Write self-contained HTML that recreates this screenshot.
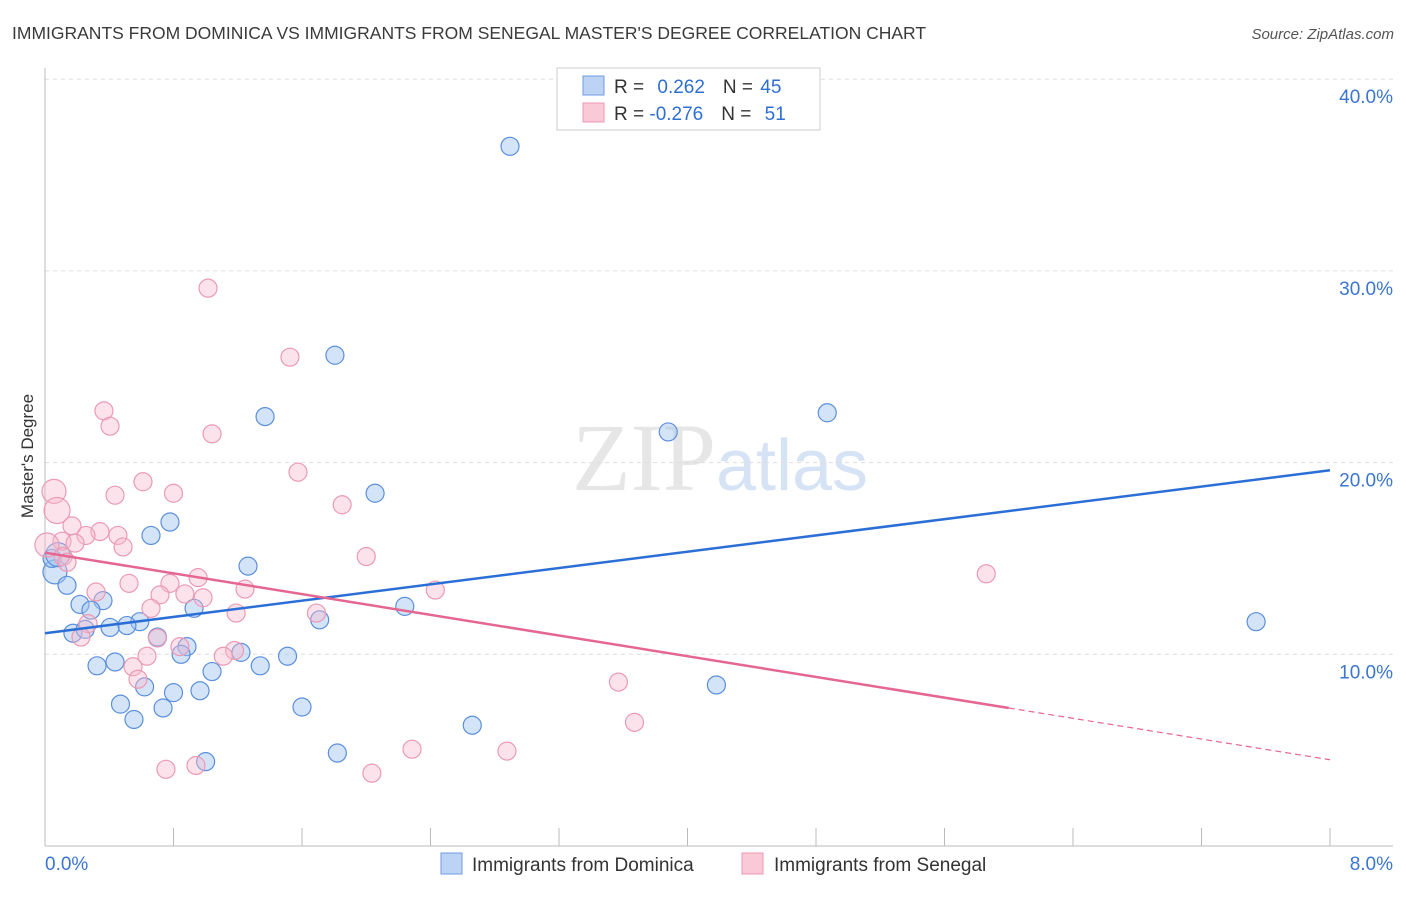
<!DOCTYPE html>
<html><head><meta charset="utf-8"><style>
body{margin:0;background:#fff;font-family:"Liberation Sans",sans-serif}
</style></head><body>
<svg id="chart" width="1406" height="892" xmlns="http://www.w3.org/2000/svg" font-family="Liberation Sans, sans-serif">
<text x="12" y="39" font-size="17.5" fill="#3a3a3a">IMMIGRANTS FROM DOMINICA VS IMMIGRANTS FROM SENEGAL MASTER'S DEGREE CORRELATION CHART</text>
<text x="1394" y="39" font-size="15" fill="#555" text-anchor="end" font-style="italic">Source: ZipAtlas.com</text>
<text x="720" y="490" font-size="96" text-anchor="middle" fill="#e6e6e6" font-family="Liberation Serif, serif">ZIP<tspan fill="#d6e3f5" font-family="Liberation Sans, sans-serif" font-size="72">atlas</tspan></text>
<g id="grid"></g><g id="axes"></g><g id="pts"></g><g id="trends"></g>
<text transform="translate(33,456) rotate(-90)" font-size="17" fill="#333" text-anchor="middle">Master's Degree</text>
<g>
<rect x="557" y="68" width="263" height="62" fill="#fff" stroke="#ccc"/>
<rect x="583" y="76" width="21" height="19" fill="#bcd3f5" stroke="#6f9be0"/>
<rect x="583" y="103" width="21" height="19" fill="#f9c9d7" stroke="#ec98b1"/>
<text x="614" y="93" font-size="19" fill="#333">R = <tspan fill="#2f6fd1" dx="8">0.262</tspan><tspan dx="18">N = </tspan><tspan fill="#2f6fd1" dx="2">45</tspan></text>
<text x="614" y="120" font-size="19" fill="#333">R = <tspan fill="#2f6fd1">-0.276</tspan><tspan dx="18">N = </tspan><tspan fill="#2f6fd1" dx="8">51</tspan></text>
</g>
<g>
<rect x="441" y="853" width="21" height="21" fill="#bcd3f5" stroke="#6f9be0"/>
<text x="472" y="871" font-size="19" fill="#333">Immigrants from Dominica</text>
<rect x="742" y="853" width="21" height="21" fill="#f9c9d7" stroke="#ec98b1"/>
<text x="774" y="871" font-size="19" fill="#333">Immigrants from Senegal</text>
</g>
</svg>
<script>
const yTicks=[10,20,30,40];
const yTickLabels=["10.0%","20.0%","30.0%","40.0%"];
const xTickLabels=["0.0%","8.0%"];
const blueX=[2.895,1.805,1.37,4.87,3.88,2.055,0.778,0.66,1.264,0.062,0.044,0.08,0.137,0.218,0.361,0.286,0.928,2.24,1.71,0.59,0.51,0.405,0.174,0.25,0.70,0.884,0.847,1.22,1.51,0.324,0.436,1.34,1.04,0.62,0.80,0.965,4.18,0.47,0.735,1.60,0.554,2.66,1.82,1.00,7.54];
const blueY=[36.5,25.6,22.4,22.6,21.6,18.4,16.9,16.2,14.6,14.3,15.0,15.2,13.6,12.6,12.8,12.3,12.4,12.5,11.8,11.7,11.5,11.4,11.1,11.3,10.9,10.4,10.0,10.1,9.9,9.4,9.6,9.4,9.1,8.3,8.0,8.1,8.4,7.4,7.2,7.25,6.6,6.3,4.85,4.4,11.7];
const blueR=[9,9,9,9,9,9,9,9,9,12,9,12,9,9,9,9,9,9,9,9,9,9,9,9,9,9,9,9,9,9,9,9,9,9,9,9,9,9,9,9,9,9,9,9,9];
const pinkX=[1.015,1.525,0.367,0.405,1.04,1.575,0.61,0.056,0.80,0.436,1.85,0.075,0.168,0.342,0.454,0.255,0.106,0.187,0.486,0.012,0.112,0.137,2.0,5.86,0.953,0.778,0.523,1.245,0.318,0.871,0.716,0.984,2.43,0.66,1.19,1.69,0.268,0.224,0.70,0.84,1.18,1.11,0.635,0.548,0.579,3.57,3.67,2.285,2.876,0.753,0.94,2.035];
const pinkY=[29.1,25.5,22.7,21.9,21.5,19.5,19.0,18.5,18.4,18.3,17.8,17.5,16.7,16.4,16.2,16.2,15.9,15.8,15.6,15.7,15.1,14.8,15.1,14.2,14.0,13.7,13.7,13.4,13.25,13.15,13.1,12.95,13.35,12.4,12.15,12.15,11.6,10.9,10.85,10.4,10.2,9.9,9.9,9.35,8.7,8.55,6.45,5.05,4.95,4.0,4.2,3.8];
const pinkR=[9,9,9,9,9,9,9,12,9,9,9,13,9,9,9,9,9,9,9,12,9,9,9,9,9,9,9,9,9,9,9,9,9,9,9,9,9,9,9,9,9,9,9,9,9,9,9,9,9,9,9,9];
const blueTrendX=[0,8];const blueTrendY=[11.1,19.6];
const pinkTrendX=[0,6.0,8];const pinkTrendY=[15.3,7.2,4.5];
const NS="http://www.w3.org/2000/svg";
const xs=v=>45+v/8*1285, ys=v=>846-v*19.17;
function mk(t,a,p){const e=document.createElementNS(NS,t);for(const k in a)e.setAttribute(k,a[k]);document.getElementById(p).appendChild(e);return e;}
yTicks.forEach((t,i)=>{
 const l=mk('line',{x1:45,x2:1393,y1:ys(t),y2:ys(t),stroke:'#ddd','stroke-dasharray':'4,4'},'grid');
 
 
 const tx=mk('text',{x:1393,y:ys(t)+24,'font-size':19,fill:'#3b75d0','text-anchor':'end'},'axes');tx.textContent=yTickLabels[i];
 
 
});
mk('line',{x1:45,x2:45,y1:68,y2:846,stroke:'#bbb'},'axes');
mk('line',{x1:45,x2:1393,y1:846,y2:846,stroke:'#bbb'},'axes');
for(let i=0;i<=10;i++){const x=xs(i*0.8);const l=mk('line',{x1:x,x2:x,y1:828,y2:846,stroke:'#bbb'},'axes');
 
 }
[[45,'start'],[1393,'end']].forEach((p,i)=>{const t=mk('text',{x:p[0],y:870,'font-size':19,fill:'#3b75d0','text-anchor':p[1]},'axes');t.textContent=xTickLabels[i];
 
 });
blueX.forEach((v,i)=>{const c=mk('circle',{cx:xs(v),cy:ys(blueY[i]),r:blueR[i],fill:'rgba(160,195,240,0.45)',stroke:'#5b8fdc','stroke-width':1.2},'pts');
 
 });
pinkX.forEach((v,i)=>{const c=mk('circle',{cx:xs(v),cy:ys(pinkY[i]),r:pinkR[i],fill:'rgba(248,185,205,0.4)',stroke:'#eb9ab4','stroke-width':1.2},'pts');
 
 });
const bl=mk('line',{x1:xs(blueTrendX[0]),y1:ys(blueTrendY[0]),x2:xs(blueTrendX[1]),y2:ys(blueTrendY[1]),stroke:'#2b6fd6','stroke-width':2.5},'trends');


const pl=mk('line',{x1:xs(pinkTrendX[0]),y1:ys(pinkTrendY[0]),x2:xs(pinkTrendX[1]),y2:ys(pinkTrendY[1]),stroke:'#e56690','stroke-width':2.5},'trends');


const pd=mk('line',{x1:xs(pinkTrendX[1]),y1:ys(pinkTrendY[1]),x2:xs(pinkTrendX[2]),y2:ys(pinkTrendY[2]),stroke:'#e56690','stroke-width':1.2,'stroke-dasharray':'6,4'},'trends');


</script>
</body></html>
